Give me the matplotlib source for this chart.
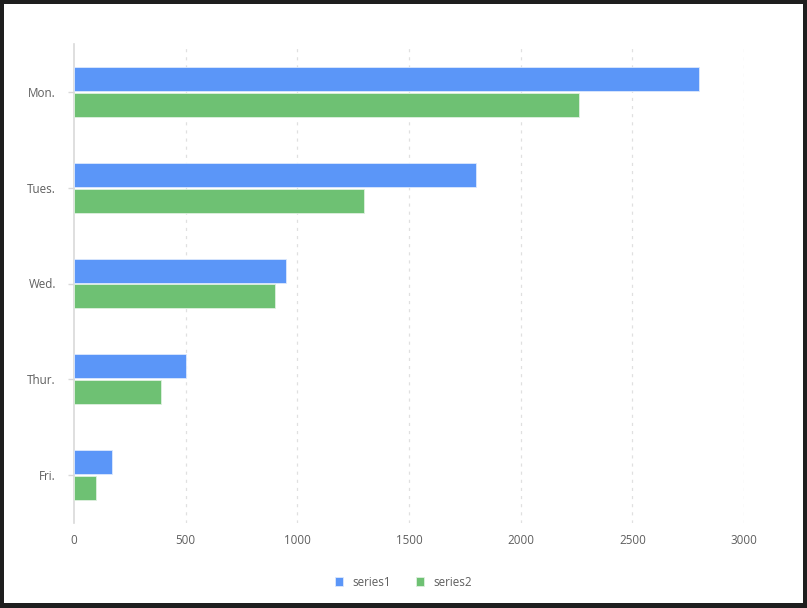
import matplotlib
matplotlib.use("Agg")
import matplotlib.pyplot as plt
import matplotlib.patches as patches
import numpy as np

# data
days = ["Mon.", "Tues.", "Wed.", "Thur.", "Fri."]
series1 = [2800, 1800, 950, 500, 170]
series2 = [2260, 1300, 900, 390, 100]
x_ticks = [0, 500, 1000, 1500, 2000, 2500, 3000]

blue = "#5B96F8"
green = "#6EC173"
txt = "#5f5f5f"

plt.rcParams["font.family"] = ["Open Sans", "DejaVu Sans"]

W, H = 807, 608
fig = plt.figure(figsize=(W / 100, H / 100), dpi=100, facecolor="#1e1e1e")
# white card inside the dark frame
fig.patches.append(patches.Rectangle((4 / W, 5 / H), 799 / W, 599 / H,
                                     transform=fig.transFigure,
                                     facecolor="white", edgecolor="none", zorder=-5))

ax = fig.add_axes([74 / W, 1 - 523 / H, (744 - 74) / W, (523 - 44) / H])
ax.set_facecolor("none")

y = np.arange(len(days))
h = 0.25
ax.barh(y - 0.135, series1, height=h, color=blue, edgecolor="#dce9fd", linewidth=0.6,
        label="series1", zorder=3)
ax.barh(y + 0.135, series2, height=h, color=green, edgecolor="#dff0e0", linewidth=0.6,
        label="series2", zorder=3)

ax.set_xlim(0, 3000)
ax.set_ylim(len(days) - 0.5, -0.5)
ax.set_yticks(y)
ax.set_yticklabels(days)
ax.set_xticks(x_ticks)

for v in x_ticks[1:]:
    ax.axvline(v, color="#e0e0e0", linewidth=0.9, linestyle=(0, (2.5, 4)), zorder=1)

for s in ["top", "right", "bottom"]:
    ax.spines[s].set_visible(False)
ax.spines["left"].set_color("#d9d9d9")
ax.spines["left"].set_linewidth(1.2)
ax.spines["left"].set_zorder(2)

ax.tick_params(axis="y", length=4, width=1, color="#d9d9d9", pad=9, labelsize=8.4,
               labelcolor=txt)
ax.tick_params(axis="x", length=0, pad=8, labelsize=8.4, labelcolor=txt)

fig.legend(loc="center", bbox_to_anchor=(0.5, 1 - 582 / H), ncol=2, frameon=False,
           handlelength=0.7, handleheight=0.7, handletextpad=0.8, columnspacing=2.1,
           fontsize=8.4, labelcolor=txt)

fig.savefig("out.png", dpi=100, facecolor=fig.get_facecolor())
